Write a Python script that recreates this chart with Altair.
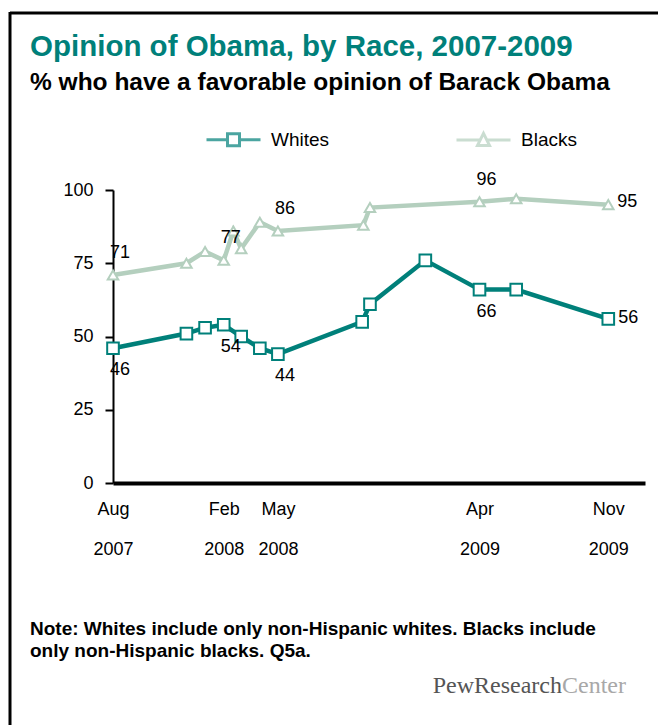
import altair as alt
import pandas as pd

TEAL = "#00807a"
SAGE = "#b4cfbe"
FONT = "Liberation Sans"

series_names = ["Whites", "Blacks"]

white_dates = ["2007-08-01", "2007-12-01", "2008-01-01", "2008-02-01", "2008-03-01",
               "2008-04-01", "2008-05-01", "2008-09-18", "2008-10-01", "2009-01-01",
               "2009-04-01", "2009-06-01", "2009-11-01"]
white_values = [46, 51, 53, 54, 50, 46, 44, 55, 61, 76, 66, 66, 56]

black_dates = ["2007-08-01", "2007-12-01", "2008-01-01", "2008-02-01", "2008-02-17",
               "2008-03-01", "2008-04-01", "2008-05-01", "2008-09-20", "2008-10-01",
               "2009-04-01", "2009-06-01", "2009-11-01"]
black_values = [71, 75, 79, 76, 86, 80, 89, 86, 88, 94, 96, 97, 95]

label_dates = ["2007-08-01", "2008-02-01", "2008-05-01", "2009-04-01"]
white_label_text = ["46", "54", "44", "66"]
black_label_text = ["71", "77", "86", "96"]
end_date = "2009-11-01"
white_end_text = "56"
black_end_text = "95"

x_tick_dates = [(2007, 8), (2008, 2), (2008, 5), (2009, 4), (2009, 11)]
y_ticks = [0, 25, 50, 75, 100]

title_text = "Opinion of Obama, by Race, 2007-2009"
subtitle_text = "% who have a favorable opinion of Barack Obama"
note_lines = ["Note: Whites include only non-Hispanic whites. Blacks include",
              "only non-Hispanic blacks. Q5a."]
source_a = "PewResearch"
source_b = "Center"

# ---- tables
whites = pd.DataFrame({"date": white_dates, "value": white_values, "series": "Whites"})
blacks = pd.DataFrame({"date": black_dates, "value": black_values, "series": "Blacks"})
wmap = dict(zip(white_dates, white_values))
bmap = dict(zip(black_dates, black_values))
w_lab = pd.DataFrame({"date": label_dates, "value": [wmap[d] for d in label_dates], "text": white_label_text})
b_lab = pd.DataFrame({"date": label_dates, "value": [bmap[d] for d in label_dates], "text": black_label_text})
w_end = pd.DataFrame({"date": [end_date], "value": [wmap[end_date]], "text": [white_end_text]})
b_end = pd.DataFrame({"date": [end_date], "value": [bmap[end_date]], "text": [black_end_text]})
legend_df = pd.DataFrame({"series": series_names})

x_scale = alt.Scale(type="utc", domain=[alt.DateTime(year=2007, month=8, date=1, utc=True),
                                        alt.DateTime(year=2010, month=1, date=1, utc=True)], nice=False)
x_axis = alt.Axis(
    values=[alt.DateTime(year=y, month=m, date=1, utc=True) for y, m in x_tick_dates],
    labelExpr="[utcFormat(datum.value, '%b'), utcFormat(datum.value, '%Y')]",
    ticks=False, domainColor="black", domainWidth=4, labelFontSize=18, labelFont=FONT,
    labelColor="black", labelPadding=17, labelLineHeight=40, grid=False, title=None,
    labelFlush=False, labelOverlap=False, labelAlign="center")
y_scale = alt.Scale(domain=[0, 100], nice=False)
y_axis = alt.Axis(values=y_ticks, tickSize=8, tickWidth=2, tickColor="black", domainColor="black",
                  domainWidth=2, labelFontSize=18, labelFont=FONT, labelPadding=12,
                  labelColor="black", grid=False, title=None)

X = alt.X("date:T", scale=x_scale, axis=x_axis)
Y = alt.Y("value:Q", scale=y_scale, axis=y_axis)

line_w = alt.Chart(whites).mark_line(color=TEAL, strokeWidth=4.5).encode(x=X, y=Y)
line_b = alt.Chart(blacks).mark_line(color=SAGE, strokeWidth=4.5).encode(x=X, y=Y)
pts_w = alt.Chart(whites).mark_point(shape="square", size=135, fill="white", fillOpacity=1,
                                     stroke=TEAL, strokeWidth=2, opacity=1).encode(x=X, y=Y)
pts_b = alt.Chart(blacks).mark_point(shape="triangle-up", size=110, fill="white", fillOpacity=1,
                                     stroke=SAGE, strokeWidth=2, opacity=1).encode(x=X, y=Y)

txt = dict(font=FONT, fontSize=18, color="black")
lab_w = alt.Chart(w_lab).mark_text(dx=7, dy=22, align="center", baseline="middle", **txt).encode(x=X, y=Y, text="text:N")
lab_b = alt.Chart(b_lab).mark_text(dx=7, dy=-22, align="center", baseline="middle", **txt).encode(x=X, y=Y, text="text:N")
end_w = alt.Chart(w_end).mark_text(dx=10, dy=-1, align="left", baseline="middle", **txt).encode(x=X, y=Y, text="text:N")
end_b = alt.Chart(b_end).mark_text(dx=9, dy=-3, align="left", baseline="middle", **txt).encode(x=X, y=Y, text="text:N")

sq_path = "M-4.5,0H-1M1,0H4.5M-1,-1H1V1H-1Z"
tri_path = "M-4.5,0H-0.55M0.55,0H4.5M0,-1.1L1,0.9H-1Z"
leg = alt.Legend(orient="none", legendX=111, legendY=-60, direction="horizontal",
                 title=None, symbolSize=144, symbolStrokeWidth=3,
                 symbolFillColor="white", labelFontSize=19, labelFont=FONT,
                 labelColor="black", labelOffset=28, columnPadding=120, padding=0)
legend_layer = alt.Chart(legend_df).mark_point(clip=True, fill="white", strokeWidth=3, size=144).encode(
    x=alt.value(-500), y=alt.value(-500),
    stroke=alt.Stroke("series:N", scale=alt.Scale(domain=series_names, range=[TEAL, SAGE]), legend=leg),
    shape=alt.Shape("series:N", scale=alt.Scale(domain=series_names, range=[sq_path, tri_path]), legend=leg),
)

title = alt.Chart(pd.DataFrame({"t": [title_text]})).mark_text(
    align="left", baseline="alphabetic", font=FONT, fontSize=29.5, fontWeight="bold", color=TEAL).encode(
    x=alt.value(-83), y=alt.value(-134), text="t:N")
subtitle = alt.Chart(pd.DataFrame({"t": [subtitle_text]})).mark_text(
    align="left", baseline="alphabetic", font=FONT, fontSize=24.5, fontWeight="bold", color="black").encode(
    x=alt.value(-83), y=alt.value(-100), text="t:N")
note = alt.Chart(pd.DataFrame({"t": [0]})).mark_text(
    text=note_lines, align="left", baseline="top", font=FONT, fontSize=19, fontWeight="bold",
    color="black", lineHeight=22).encode(x=alt.value(-83), y=alt.value(430))
src_a = alt.Chart(pd.DataFrame({"t": [source_a]})).mark_text(
    align="right", baseline="middle", font="Liberation Serif", fontSize=24, color="#555555").encode(
    x=alt.value(449), y=alt.value(496), text="t:N")
src_b = alt.Chart(pd.DataFrame({"t": [source_b]})).mark_text(
    align="left", baseline="middle", font="Liberation Serif", fontSize=24, color="#a8a8a8").encode(
    x=alt.value(449), y=alt.value(496), text="t:N")

frame_top = alt.Chart(pd.DataFrame({"t": [0]})).mark_rule(color="black", strokeWidth=3).encode(
    x=alt.value(-103), x2=alt.value(545), y=alt.value(-177))
frame_left = alt.Chart(pd.DataFrame({"t": [0]})).mark_rule(color="black", strokeWidth=3).encode(
    x=alt.value(-103), y=alt.value(-178), y2=alt.value(535))

chart = alt.layer(
    line_b, line_w, pts_b, pts_w, lab_w, lab_b, end_w, end_b, legend_layer,
    title, subtitle, note, src_a, src_b, frame_top, frame_left
).properties(
    width=532, height=293,
    autosize=alt.AutoSizeParams(type="none"),
    padding={"left": 113, "top": 190, "right": 13, "bottom": 242},
    background="white",
).configure_view(stroke=None)

chart.save("out.html", embed_options={"renderer": "svg", "actions": False})
